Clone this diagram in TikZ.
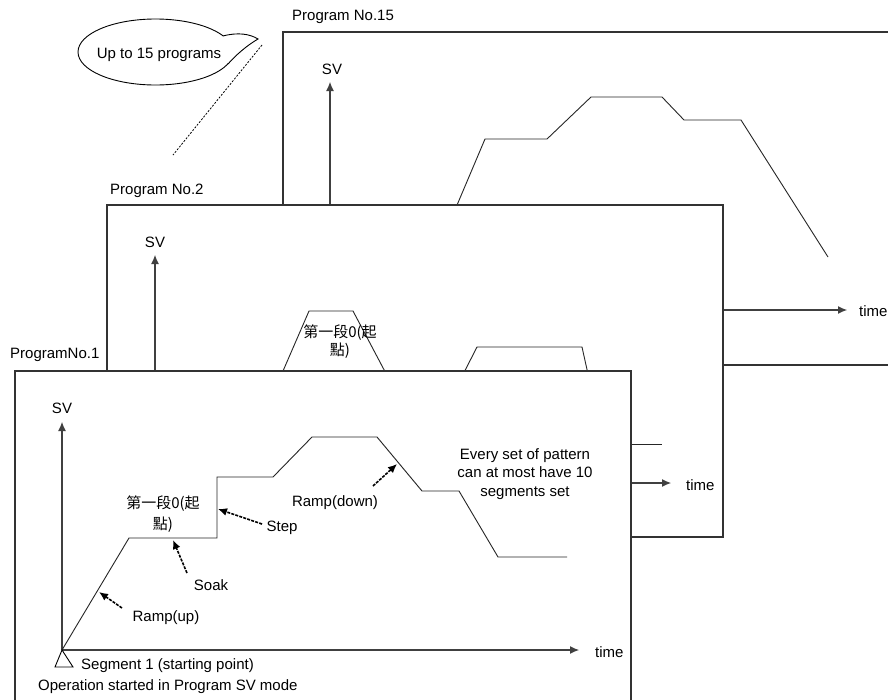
\documentclass[tikz,border=0pt]{standalone}
\usepackage{fontspec}
\setmainfont{Liberation Sans}
\newfontfamily\cjk{Noto Sans CJK TC}
\usetikzlibrary{arrows.meta}
\begin{document}
\begin{tikzpicture}[x=1pt,y=-1pt,
  box/.style={draw=black!80, line width=1.1pt, fill=white},
  axis/.style={draw=black!75, line width=1.1pt, -{Latex[length=9pt,width=8pt]}},
  curve/.style={draw=black!85, line width=0.9pt},
  ptr/.style={draw=black, line width=1.6pt, dash pattern=on 3pt off 1.2pt, -{Latex[length=9pt,width=8pt]}},
  lbl/.style={inner sep=0pt, font=\fontsize{15}{17}\selectfont},
  cjklbl/.style={inner sep=0pt, align=center, font=\fontsize{15}{17}\selectfont\cjk}]
\useasboundingbox (0,0) rectangle (888,699);
\clip (0,0) rectangle (888,699);

% ---------- speech bubble ----------
\draw[line width=0.9pt] (155.5,52) ellipse [x radius=77.5, y radius=33];
\fill[white] (223,36) .. controls (238,32) and (250,34) .. (258,39)
  .. controls (246,46) and (235,56) .. (228,64) -- cycle;
\draw[line width=0.9pt] (223,36) .. controls (238,32) and (250,34) .. (258,39)
  .. controls (246,46) and (235,56) .. (228,64);
\node[lbl] (bubble) at (159,55) {Up to 15 programs};
\coordinate (dA) at (262,45);
\coordinate (dB) at (173,155);
\draw[line width=0.8pt, dash pattern=on 2pt off 1.5pt] (dA) -- (dB);

% ---------- Program No.15 ----------
\node[lbl, anchor=west] (p15) at (292,17) {Program No.15};
\coordinate (b15nw) at (283,32);
\coordinate (b15se) at (900,365);
\draw[box] (b15nw) rectangle (b15se);
\coordinate (o15) at (330,310);
\coordinate (y15) at (330,82);
\coordinate (x15) at (847,310);
\draw[axis] (o15) -- (y15);
\draw[axis] (o15) -- (x15);
\node[lbl] (sv15) at (332,69) {SV};
\node[lbl, anchor=west] (t15) at (859,311) {time};
\draw[curve] (438,250) -- (485,139) -- (547,139) -- (591,97) -- (662,97)
  -- (684,120) -- (741,120) -- (828,257);

% ---------- Program No.2 ----------
\node[lbl, anchor=west] (p2) at (110,191) {Program No.2};
\coordinate (b2nw) at (107,205);
\coordinate (b2se) at (723,537);
\draw[box] (b2nw) rectangle (b2se);
\coordinate (o2) at (155,483);
\coordinate (y2) at (155,255);
\coordinate (x2) at (671,483);
\draw[axis] (o2) -- (y2);
\draw[axis] (o2) -- (x2);
\node[lbl] (sv2) at (155,242) {SV};
\node[lbl, anchor=west] (t2) at (686,485) {time};
\draw[curve] (270,401) -- (309,311) -- (353,311) -- (400,400);
\draw[curve] (454,392) -- (477,347) -- (582,347) -- (592,392);
\draw[curve] (600,444) -- (662,444);
\node[cjklbl] (seg2) at (340,342) {第一段0(起\\[1pt]點)};

% ---------- Program No.1 ----------
\node[lbl, anchor=west] (p1) at (10,355) {ProgramNo.1};
\coordinate (b1nw) at (15,371);
\coordinate (b1se) at (631,710);
\draw[box] (b1nw) rectangle (b1se);
\coordinate (o1) at (62,650);
\coordinate (y1) at (62,422);
\coordinate (x1) at (579,650);
\draw[axis] (o1) -- (y1);
\draw[axis] (o1) -- (x1);
\node[lbl] (sv1) at (62,408) {SV};
\node[lbl, anchor=west] (t1) at (595,652) {time};
\draw[curve] (o1) -- (129,538) -- (217,538) -- (217,477) -- (273,477)
  -- (312,437) -- (377,437) -- (422,491) -- (459,491) -- (498,557) -- (567,557);
\draw[line width=0.9pt] (o1) -- (55,667) -- (73,667) -- cycle;
\node[lbl, anchor=west] (seg1) at (81,666) {Segment 1 (starting point)};
\node[lbl, anchor=west] (oper) at (38,687) {Operation started in Program SV mode};
\node[cjklbl] (seg1c) at (163,514) {第一段0(起\\[4pt]點)};

% pointers
\node[lbl] (rup) at (166,618) {Ramp(up)};
\node[lbl] (soak) at (211,585) {Soak};
\node[lbl] (step1) at (282,528) {Step};
\node[lbl] (rdown) at (335,503) {Ramp(down)};
\coordinate (rupS) at (122,608);  \coordinate (rupT) at (99,592);
\coordinate (soakS) at (187,573); \coordinate (soakT) at (173,540);
\coordinate (stepS) at (262,524); \coordinate (stepT) at (218,509);
\coordinate (rdS) at (373,486);   \coordinate (rdT) at (397,464);
\draw[ptr] (rupS) -- (rupT);
\draw[ptr] (soakS) -- (soakT);
\draw[ptr] (stepS) -- (stepT);
\draw[ptr] (rdS) -- (rdT);

\node[lbl, align=center, font=\fontsize{15}{18.5}\selectfont] (every) at (525,474)
  {Every set of pattern\\can at most have 10\\segments set};
\end{tikzpicture}
\end{document}
